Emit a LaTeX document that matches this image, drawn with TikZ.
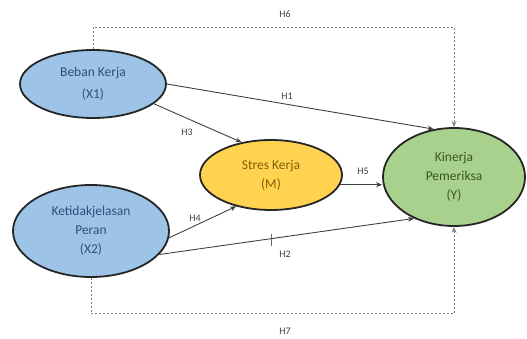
\documentclass[tikz,border=0pt]{standalone}
\usepackage{fontspec}
\setmainfont{Carlito}
\usetikzlibrary{shapes.geometric,arrows.meta}
\definecolor{bluefill}{HTML}{9DC3E6}
\definecolor{yellowfill}{HTML}{FFD34F}
\definecolor{greenfill}{HTML}{A9D18E}
\definecolor{bluetext}{HTML}{2E4F7A}
\definecolor{yellowtext}{HTML}{7F6000}
\definecolor{greentext}{HTML}{385723}
\definecolor{dashgray}{HTML}{7F7F7F}
\tikzset{
  var/.style={ellipse, draw=black!85, line width=1.8pt, inner sep=0pt, align=center,
    font=\fontsize{13.5}{19}\selectfont},
  arr/.style={draw=black!75, line width=0.9pt, -{Stealth[length=6pt,width=5pt]}},
  darr/.style={draw=dashgray, line width=0.9pt, dash pattern=on 2pt off 2pt, -{Stealth[length=6pt,width=5pt]}},
  lab/.style={font=\fontsize{10}{12}\selectfont, text=black!75, inner sep=0pt}
}
\begin{document}
\begin{tikzpicture}[x=1pt,y=-1pt]
\useasboundingbox (0,0) rectangle (527,339);
\node[var, fill=bluefill, text=bluetext, minimum width=146pt, minimum height=68pt,
  font=\fontsize{13.5}{22}\selectfont] (beban) at (93,84) {Beban Kerja\\(X1)};
\node[var, fill=bluefill, text=bluetext, minimum width=156pt, minimum height=92pt] (ket) at (91,231) {Ketidakjelasan\\Peran\\(X2)};
\node[var, fill=yellowfill, text=yellowtext, minimum width=142pt, minimum height=70pt] (stres) at (271,175) {Stres Kerja\\(M)};
\node[var, fill=greenfill, text=greentext, minimum width=142pt, minimum height=98pt] (kin) at (454,177) {Kinerja\\Pemeriksa\\(Y)};

% arrows
\draw[arr] (beban.0) -- (kin.113);
\draw[arr] (beban.-18) -- (stres.132);
\draw[arr] (ket.-5) -- (stres.-138);
\draw[arr] (ket.-19) -- (kin.-134);
\draw[arr] (stres.-8) -- (stres.-8 -| kin.west);
\draw[darr] (beban.north) -- ++(0,-22) -| (kin.north);
\draw[darr] (ket.south) -- ++(0,36) -| (kin.south);

% labels
\node[lab] (h6) at (285,14) {H6};
\node[lab] (h1) at (287,96) {H1};
\node[lab] (h3) at (187,132) {H3};
\node[lab] (h4) at (195,218) {H4};
\node[lab] (h2) at (285,254) {H2};
\node[lab] (h5) at (363,171) {H5};
\node[lab] (h7) at (285,331) {H7};
\draw[black!60, line width=0.6pt] (271,234) -- (271,246);
\end{tikzpicture}
\end{document}
